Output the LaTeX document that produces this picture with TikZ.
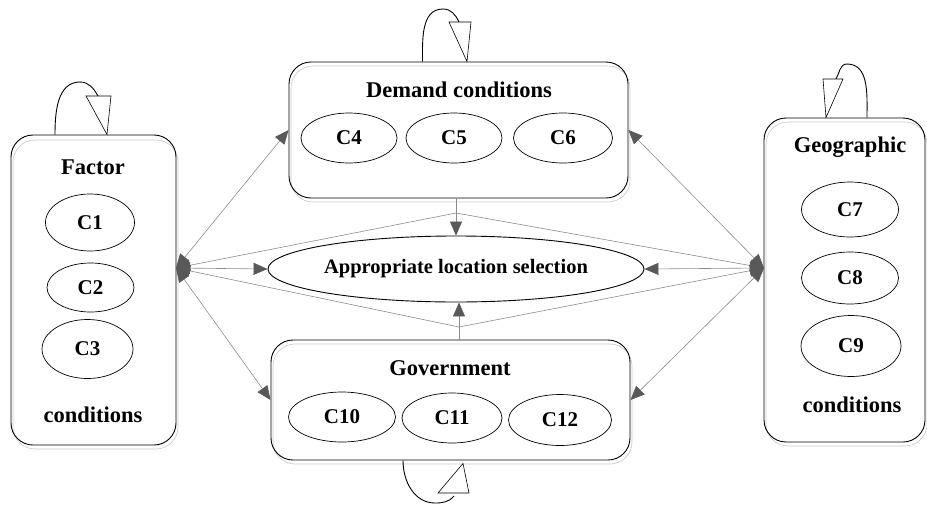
\documentclass[tikz,border=0pt]{standalone}
\usepackage{fontspec}
\setmainfont{Liberation Serif}
\usetikzlibrary{arrows.meta,calc,shapes.geometric}
\definecolor{tipgray}{HTML}{595959}
\definecolor{linegray}{HTML}{8C8C8C}
\definecolor{shadowgray}{HTML}{C8C8C8}
\tikzset{
  box/.style={draw=black, line width=0.9pt, rounded corners=22pt, fill=none, inner sep=0pt},
  shadowbox/.style={draw=shadowgray, line width=0.6pt, rounded corners=22pt},
  crit/.style={draw=black, line width=0.7pt, ellipse, inner sep=0pt, font=\fontsize{21}{24}\bfseries},
  ttl/.style={font=\fontsize{22.5}{25}\bfseries, inner sep=0pt},
  conn/.style={draw=linegray, line width=0.6pt},
  tip/.style={-{Triangle[length=14pt,width=12pt,fill=tipgray,color=tipgray]}},
  tips/.style={{Triangle[length=14pt,width=12pt,fill=tipgray,color=tipgray]}-{Triangle[length=14pt,width=12pt,fill=tipgray,color=tipgray]}},
  looparc/.style={draw=black, line width=0.9pt},
  looptri/.style={draw=black, line width=0.6pt, fill=white, line join=miter},
}
\begin{document}
\begin{tikzpicture}[x=1pt,y=-1pt]
\useasboundingbox (0,0) rectangle (927,504);

% shadows
\draw[shadowbox] (13,140) rectangle (178,449);
\draw[shadowbox] (291,66) rectangle (630,202);
\draw[shadowbox] (273,344) rectangle (632,464);
\draw[shadowbox] (766,122) rectangle (927,446);

% boxes
\node[box, minimum width=165pt, minimum height=310pt] (F) at (93.5,290) {};
\node[box, minimum width=339pt, minimum height=136pt] (D) at (458.5,130) {};
\node[box, minimum width=359pt, minimum height=120pt] (G) at (450.5,400) {};
\node[box, minimum width=161pt, minimum height=324pt] (Q) at (844.5,280) {};

% titles
\node[ttl] (Ft) at (93,167) {Factor};
\node[ttl] (Fc) at (93,415) {conditions};
\node[ttl] (Dt) at (459,90) {Demand conditions};
\node[ttl] (Gt) at (450,368) {Government};
\node[ttl] (Qt) at (850,147) {Geographic};
\node[ttl] (Qc) at (852,405) {conditions};

% criteria
\node[crit, minimum width=89pt, minimum height=57pt] (c1) at (90,222.5) {C1};
\node[crit, minimum width=87pt, minimum height=49pt] (c2) at (90.5,287.5) {C2};
\node[crit, minimum width=91pt, minimum height=59pt] (c3) at (87.5,349) {C3};
\node[crit, minimum width=96pt, minimum height=50pt] (c4) at (349,138) {C4};
\node[crit, minimum width=96pt, minimum height=50pt] (c5) at (454,138) {C5};
\node[crit, minimum width=99pt, minimum height=50pt] (c6) at (563,138) {C6};
\node[crit, minimum width=97pt, minimum height=55pt] (c7) at (850,209.5) {C7};
\node[crit, minimum width=97pt, minimum height=52pt] (c8) at (850,278) {C8};
\node[crit, minimum width=100pt, minimum height=61pt] (c9) at (851,346) {C9};
\node[crit, minimum width=107pt, minimum height=50pt] (c10) at (342,417) {C10};
\node[crit, minimum width=100pt, minimum height=50pt] (c11) at (452,418) {C11};
\node[crit, minimum width=103pt, minimum height=51pt] (c12) at (560,420) {C12};

% central
\node[draw=black, line width=0.9pt, ellipse, minimum width=376pt, minimum height=66pt, inner sep=0pt,
      font=\fontsize{20.5}{23}\bfseries] (E) at (456,269) {Appropriate location selection};

% hubs and junctions
\coordinate (hl) at (176,268);
\coordinate (hr) at (764,268);
\coordinate (ua) at (456,213);
\coordinate (la) at (459,327);

% connectors
\draw[conn, tips] (hl) -- (D.west);
\draw[conn, tips] (hl) -- (G.west);
\draw[conn, tips] (hl) -- (E.west);
\draw[conn, tips] (hr) -- (D.east);
\draw[conn, tips] (hr) -- (G.east);
\draw[conn, tips] (hr) -- (E.east);
\draw[conn, tip] (ua) -- (hl);
\draw[conn, tip] (ua) -- (hr);
\draw[conn, tip] (la) -- (hl);
\draw[conn, tip] (la) -- (hr);
\draw[conn, tip] (D.south -| ua) -- (E.north);
\draw[conn, tip] (G.north -| la) -- (E.south -| la);

% self loops
% Factor
\draw[looparc] ([xshift=-38.5pt]F.north) to[out=90,in=180] (80,82) to[out=0,in=120] (98,96);
\draw[looptri] (86,96) -- (111,96) -- ([xshift=13.5pt]F.north) -- cycle;
% Demand
\draw[looparc] ([xshift=-36pt]D.north) to[out=90,in=180] (443,9) to[out=0,in=115] (459,22);
\draw[looptri] (449,22) -- (471,22) -- ([xshift=8.5pt]D.north) -- cycle;
% Geographic
\draw[looparc] ([xshift=22.5pt]Q.north) to[out=90,in=0] (847,64) to[out=180,in=60] (836,79);
\draw[looptri] (823,79) -- (843,79) -- ([xshift=-18.5pt]Q.north) -- cycle;
% Government
\draw[looparc] ([xshift=-47.5pt]G.south) to[out=-90,in=180] (435,503) to[out=0,in=-130] (454,496);
\draw[looptri] (438,493) -- (469,493) -- ([xshift=12.5pt,yshift=-3pt]G.south) -- cycle;
\end{tikzpicture}
\end{document}
